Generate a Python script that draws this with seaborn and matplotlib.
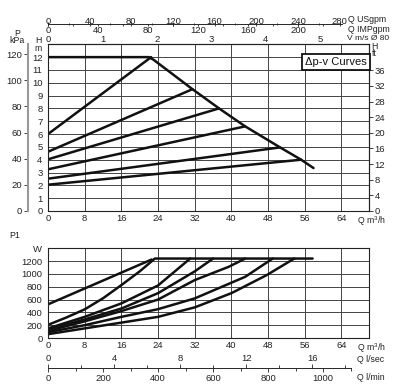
import seaborn as sns
import matplotlib.pyplot as plt
import pandas as pd

sns.set_style('white')
plt.rcParams['font.family'] = ['Liberation Sans', 'DejaVu Sans']
plt.rcParams['mathtext.default'] = 'regular'

# head curves (Q m3/h, H m)
max_q = [0, 22.0, 23.0, 31.5, 37.3, 43.0, 50.6, 55.2, 57.9]
max_h = [12.0, 12.0, 11.8, 9.5, 8.0, 6.6, 4.96, 4.0, 3.35]
dpv_h0 = [6.0, 4.62, 4.03, 3.25, 2.52, 2.05]
dpv_q1 = [22.5, 31.5, 37.3, 43.0, 50.6, 55.2]
dpv_h1 = [12.0, 9.5, 8.0, 6.6, 4.96, 4.0]

# power curves (Q m3/h, P1 W)
pw_q = [
    [0, 22.6],
    [0, 4, 8, 12, 16, 20, 23.3, 57.7],
    [0, 8, 16, 24, 31],
    [0, 8, 16, 24, 32, 36],
    [0, 8, 16, 24, 32, 39.4, 43],
    [0, 8, 16, 24, 32, 43, 49],
    [0, 8, 16, 24, 32, 40, 47.7, 53.7],
]
pw_w = [
    [525, 1225],
    [205, 320, 447, 620, 826, 1040, 1240, 1240],
    [150, 330, 540, 820, 1240],
    [130, 290, 460, 700, 1040, 1240],
    [110, 260, 420, 600, 904, 1111, 1240],
    [90, 200, 330, 450, 618, 955, 1240],
    [60, 150, 240, 330, 478, 700, 982, 1240],
]

W, H = 395, 388
fig = plt.figure(figsize=(W / 100, H / 100), dpi=100)


def px(x, y):
    return x / W, 1 - y / H


fs = 6.8
ink = '#222222'
grid_kw = dict(color='#444444', lw=0.7)
tick_kw = dict(direction='out', length=3, width=0.6, pad=1, labelsize=fs, colors=ink)

# ---- top: head ----
ax1 = fig.add_axes([48 / W, 1 - 211 / H, 321 / W, 166.7 / H])
for i in range(len(dpv_h0)):
    sns.lineplot(x=[0, dpv_q1[i]], y=[dpv_h0[i], dpv_h1[i]], ax=ax1, color='#111111', lw=1.8)
sns.lineplot(x=max_q, y=max_h, ax=ax1, color='#111111', lw=1.8, sort=False, estimator=None)
ax1.set_xlim(0, 70)
ax1.set_ylim(0, 13)
ax1.set_xticks(range(0, 65, 8))
ax1.set_yticks(range(0, 14))
ax1.set_yticklabels([str(i) for i in range(13)] + [''])
ax1.grid(True, **grid_kw)
ax1.tick_params(**tick_kw)
ax1.tick_params(axis='x', length=0, pad=2)
ax1.set_xlabel('')
ax1.set_ylabel('')
for s in ax1.spines.values():
    s.set_color(ink)
    s.set_linewidth(0.8)

sv = ax1.secondary_xaxis('top', functions=(lambda q: q / 11.87, lambda v: v * 11.87))
sv.set_xticks(range(0, 6))
sv.tick_params(length=0, pad=0.5, labelsize=fs, colors=ink)

su = ax1.secondary_xaxis(1.12, functions=(lambda q: q * 4.403, lambda g: g / 4.403))
su.set_xticks(range(0, 281, 40))
su.set_xticks(range(20, 281, 40), minor=True)
su.tick_params(which='both', direction='inout', length=3, width=0.6, pad=-3, labelsize=fs, colors=ink)
su.tick_params(which='minor', length=2)
su.spines['top'].set_bounds(0, 282)
su.spines['top'].set_linewidth(0.7)

si = ax1.secondary_xaxis(1.12, functions=(lambda q: q * 3.666, lambda g: g / 3.666))
si.set_alignment('bottom')
si.set_xticks(range(0, 201, 40))
si.set_xticks(range(20, 221, 40), minor=True)
si.tick_params(which='both', direction='out', length=1.5, width=0.6, pad=0, labelsize=fs, colors=ink)
si.spines['bottom'].set_visible(False)

sk = ax1.secondary_yaxis(-0.063, functions=(lambda h: h * 9.81, lambda p: p / 9.81))
sk.set_yticks(range(0, 121, 20))
sk.tick_params(**tick_kw)
sk.spines['left'].set_color('#999999')
sk.spines['left'].set_linewidth(1.5)

sf = ax1.secondary_yaxis('right', functions=(lambda h: h * 3.281, lambda f: f / 3.281))
sf.set_yticks(range(0, 37, 4))
sf.tick_params(**tick_kw)

# ---- bottom: power ----
ax2 = fig.add_axes([48 / W, 1 - 338 / H, 321 / W, 89.7 / H])
for q, w in zip(pw_q, pw_w):
    sns.lineplot(x=q, y=w, ax=ax2, color='#111111', lw=1.8, sort=False, estimator=None)
ax2.set_xlim(0, 70)
ax2.set_ylim(0, 1400)
ax2.set_xticks(range(0, 65, 8))
ax2.set_yticks(range(0, 1401, 200))
ax2.set_yticklabels([str(v) for v in range(0, 1201, 200)] + ['W'])
ax2.grid(True, **grid_kw)
ax2.tick_params(**tick_kw)
ax2.tick_params(axis='x', length=0, pad=2)
ax2.set_xlabel('')
ax2.set_ylabel('')
for s in ax2.spines.values():
    s.set_color(ink)
    s.set_linewidth(0.8)

sl = ax2.secondary_xaxis(-0.338, functions=(lambda q: q * 1000 / 60, lambda l: l * 60 / 1000))
sl.set_xticks(range(0, 1001, 200))
sl.set_xticks(range(100, 1101, 200), minor=True)
sl.tick_params(which='both', direction='out', length=3, width=0.6, pad=1, labelsize=fs, colors=ink)
sl.tick_params(which='minor', length=2)
sl.spines['bottom'].set_bounds(0, 1100)
sl.spines['bottom'].set_linewidth(0.7)

ss = ax2.secondary_xaxis(-0.338, functions=(lambda q: q / 3.6, lambda l: l * 3.6))
ss.set_alignment('top')
ss.set_xticks(range(0, 17, 4))
ss.set_xticks(range(2, 19, 4), minor=True)
ss.tick_params(which='both', direction='out', length=3, width=0.6, pad=1, labelsize=fs, colors=ink)
ss.tick_params(which='minor', length=2)
ss.spines['top'].set_visible(False)

# ---- unit labels ----
def label(x, y, s, ha='left', size=6.3):
    fig.text(*px(x, y), s, ha=ha, va='center', fontsize=size, color=ink, linespacing=0.85)


label(17, 37, 'P\nkPa', 'center')
label(38, 44.5, 'H\nm', 'center')
label(374, 50, 'H\nft', 'center')
label(348, 19, 'Q USgpm')
label(348, 29.5, 'Q IMPgpm')
label(347, 39, 'V m/s Ø 80', size=6)
label(357, 221, 'Q m$^3$/h')
label(9, 236, 'P1')
label(357, 348, 'Q m$^3$/h')
label(357, 360, 'Q l/sec')
label(357, 378, 'Q l/min')

fig.text(*px(336, 62), 'Δp-v Curves', ha='center', va='center', fontsize=8, color='#111111',
         bbox=dict(boxstyle='square,pad=0.3', fc='white', ec='#111111', lw=1.3))

fig.savefig('out.png', dpi=100)
